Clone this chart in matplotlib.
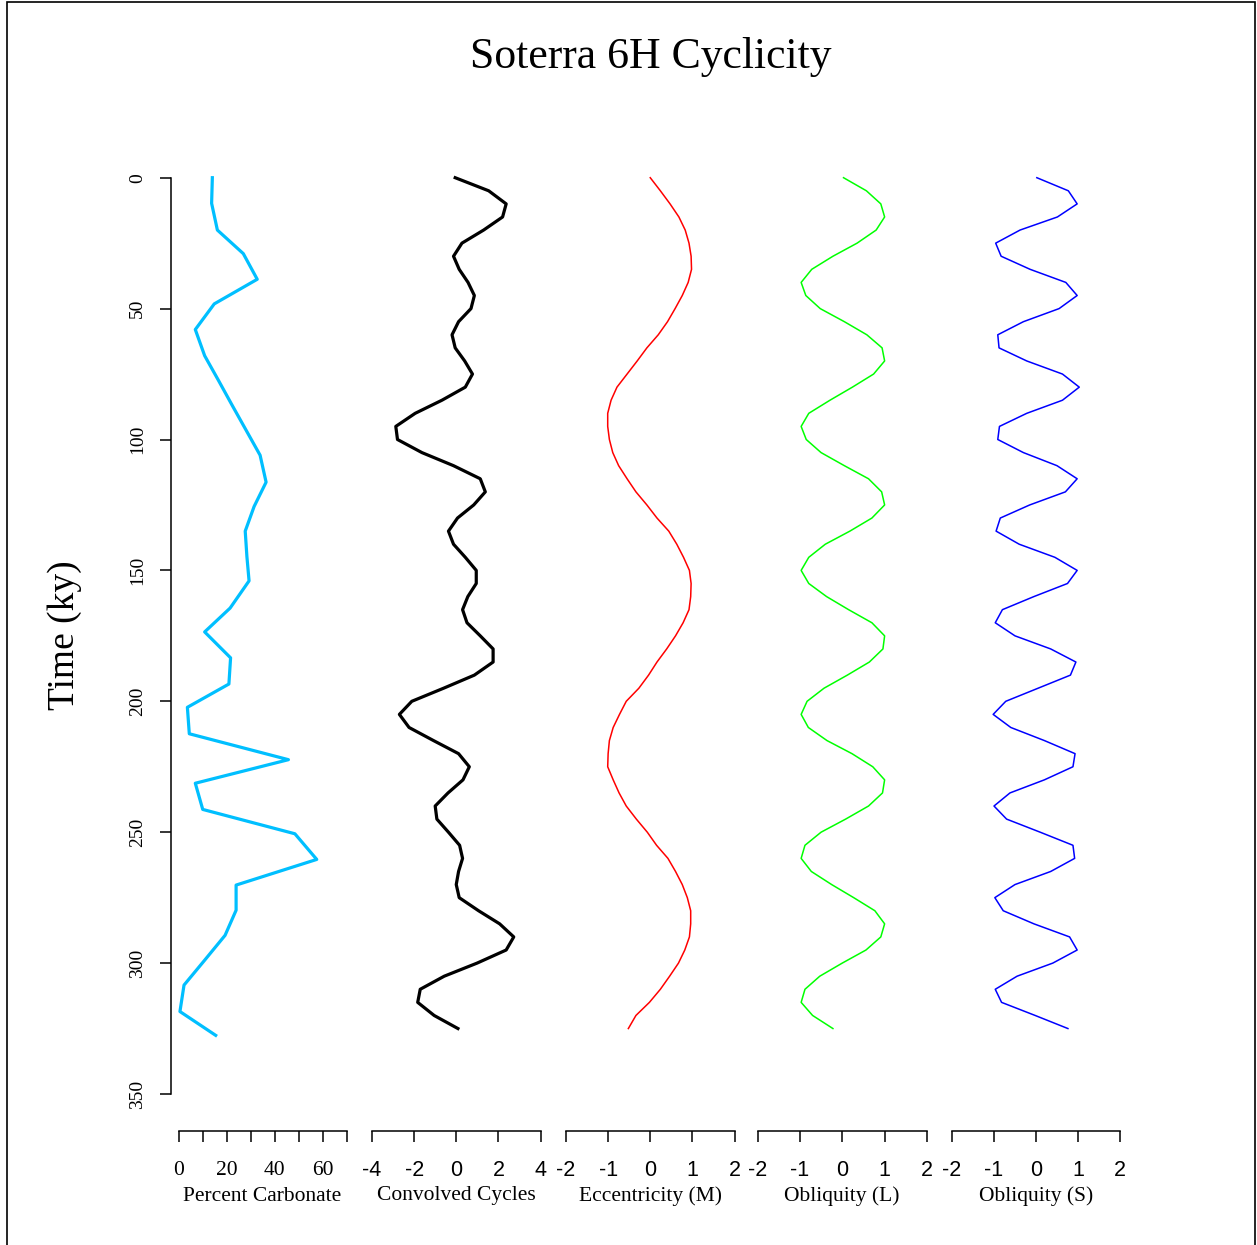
import matplotlib
matplotlib.use('Agg')
import matplotlib.pyplot as plt
import matplotlib.patches as patches

# time axis (ky) for the percent carbonate samples
carb_time = [0, 9.8, 20, 29, 38.8, 48.2, 58, 68, 77.5, 87, 96.5, 106, 116.3, 125.6,
             135, 144.7, 154, 164.4, 173.5, 183.4, 193.4, 202.3, 212.4, 222.3, 231.3,
             241.3, 250.6, 260.4, 270.2, 279.8, 289.4, 299, 308.4, 318.5, 327.6]
carbonate = [14.1, 13.8, 16.2, 27, 32.8, 14.9, 7, 10.9, 16.7, 22.4, 28.2, 34, 36.5, 31.5,
             27.8, 28.5, 29.4, 21.5, 10.9, 21.7, 21, 3.7, 4.5, 45.8, 7,
             10.1, 48.5, 57.6, 24, 24, 19.4, 10.8, 2.3, 0.6, 15.5]

# time axis (ky) for the modelled cycles, every 5 ky
cyc_time = [0, 5, 10, 15, 20, 25, 30, 35, 40, 45, 50, 55, 60, 65, 70, 75, 80, 85, 90, 95,
            100, 105, 110, 115, 120, 125, 130, 135, 140, 145, 150, 155, 160, 165, 170, 175,
            180, 185, 190, 195, 200, 205, 210, 215, 220, 225, 230, 235, 240, 245, 250, 255,
            260, 265, 270, 275, 280, 285, 290, 295, 300, 305, 310, 315, 320, 325]

convolved = [-0.05, 1.54, 2.37, 2.2, 1.3, 0.27, -0.13, 0.14, 0.56, 0.86, 0.7, 0.11, -0.2,
             -0.05, 0.4, 0.77, 0.43, -0.68, -1.95, -2.87, -2.79, -1.63, -0.13, 1.14, 1.38,
             0.83, 0.06, -0.37, -0.13, 0.43, 0.95, 0.95, 0.55, 0.3, 0.51, 1.14, 1.75, 1.75,
             0.86, -0.6, -2.11, -2.7, -2.24, -1.08, 0.11, 0.62, 0.32, -0.39, -1.0, -0.92,
             -0.37, 0.16, 0.3, 0.11, 0.0, 0.14, 1.06, 2.06, 2.73, 2.37, 0.99, -0.57, -1.71,
             -1.83, -1.05, 0.08]

eccentricity = [0.0, 0.24, 0.47, 0.68, 0.83, 0.92, 0.97, 0.98, 0.9, 0.76, 0.59, 0.41, 0.19,
                -0.08, -0.31, -0.55, -0.79, -0.93, -1.01, -1.01, -0.97, -0.89, -0.75, -0.55,
                -0.34, -0.08, 0.16, 0.44, 0.63, 0.79, 0.93, 0.97, 0.96, 0.92, 0.78, 0.6,
                0.39, 0.16, -0.04, -0.27, -0.57, -0.73, -0.88, -0.97, -1.0, -1.01, -0.88,
                -0.74, -0.57, -0.33, -0.07, 0.15, 0.42, 0.6, 0.76, 0.88, 0.96, 0.96, 0.93,
                0.82, 0.67, 0.46, 0.24, -0.02, -0.34, -0.52]

obliquity_l = [0.03, 0.57, 0.91, 1.0, 0.8, 0.35, -0.22, -0.72, -0.97, -0.86, -0.52, 0.05,
               0.58, 0.94, 1.0, 0.74, 0.24, -0.29, -0.79, -0.97, -0.85, -0.5, 0.05, 0.62,
               0.93, 1.0, 0.7, 0.18, -0.4, -0.79, -0.97, -0.79, -0.37, 0.15, 0.7, 1.0,
               0.96, 0.64, 0.12, -0.43, -0.83, -0.97, -0.8, -0.36, 0.23, 0.72, 1.0, 0.95,
               0.62, 0.08, -0.5, -0.88, -0.97, -0.73, -0.25, 0.27, 0.77, 1.0, 0.91, 0.56,
               0.0, -0.53, -0.88, -0.97, -0.7, -0.22]

obliquity_s = [0.02, 0.77, 0.98, 0.51, -0.38, -0.96, -0.83, -0.14, 0.71, 0.98, 0.55, -0.3,
               -0.91, -0.88, -0.22, 0.63, 1.03, 0.63, -0.22, -0.87, -0.91, -0.3, 0.5, 0.98,
               0.7, -0.15, -0.85, -0.95, -0.4, 0.45, 0.98, 0.75, -0.05, -0.8, -0.97, -0.5,
               0.35, 0.95, 0.82, 0.05, -0.72, -1.02, -0.6, 0.2, 0.93, 0.88, 0.2, -0.62,
               -1.0, -0.7, 0.1, 0.88, 0.92, 0.35, -0.5, -0.98, -0.78, -0.05, 0.8, 0.98,
               0.4, -0.45, -0.97, -0.82, -0.02, 0.76]

time_ticks = [0, 50, 100, 150, 200, 250, 300, 350]

SERIF = 'Liberation Serif'
SANS = 'Liberation Sans'

W, H = 1257, 1245
fig = plt.figure(figsize=(W / 100, H / 100), dpi=100)

# pixel layout of the plotting strips
y_top, y_bot = 177.7, 1131
ymax = (y_bot - y_top) / ((1094 - y_top) / 350.0)

panels = [
    # x, y, label, xlim, ticks, tick labels, colour, lw, tick font, left px, right px
    (carbonate, carb_time, 'Percent Carbonate', (0, 70), list(range(0, 71, 10)),
     ['0', '', '20', '', '40', '', '60', ''], '#00BFFF', 2.3, SERIF, 178.5, 346.5),
    (convolved, cyc_time, 'Convolved Cycles', (-4, 4), [-4, -2, 0, 2, 4],
     ['-4', '-2', '0', '2', '4'], 'black', 2.3, SANS, 372, 540.5),
    (eccentricity, cyc_time, 'Eccentricity (M)', (-2, 2), [-2, -1, 0, 1, 2],
     ['-2', '-1', '0', '1', '2'], 'red', 1.1, SANS, 566, 734.5),
    (obliquity_l, cyc_time, 'Obliquity (L)', (-2, 2), [-2, -1, 0, 1, 2],
     ['-2', '-1', '0', '1', '2'], '#00FF00', 1.1, SANS, 757.5, 927),
    (obliquity_s, cyc_time, 'Obliquity (S)', (-2, 2), [-2, -1, 0, 1, 2],
     ['-2', '-1', '0', '1', '2'], 'blue', 1.1, SANS, 952, 1120),
]

for i, (xv, yv, name, xlim, ticks, tlabels, col, lw, tfont, x0, x1) in enumerate(panels):
    ax = fig.add_axes([x0 / W, 1 - y_bot / H, (x1 - x0) / W, (y_bot - y_top) / H])
    ax.plot(xv, yv, color=col, lw=lw, clip_on=False)
    ax.set_xlim(*xlim)
    ax.set_ylim(ymax, 0)
    ax.patch.set_visible(False)
    for s in ['top', 'right']:
        ax.spines[s].set_visible(False)
    ax.spines['bottom'].set_bounds(xlim[0], xlim[1])
    ax.spines['bottom'].set_linewidth(1.1)
    ax.set_xticks(ticks)
    ax.set_xticklabels(tlabels, fontfamily=tfont, fontsize=15.5)
    ax.tick_params(axis='x', direction='out', length=8, width=1.1,
                   pad=13 if tfont == SANS else 13.5)
    ax.set_xlabel(name, fontfamily=SERIF, fontsize=15.5,
                  labelpad=3.5 if tfont == SANS else 5)
    if i == 0:
        ax.spines['left'].set_position(('outward', 5.4))
        ax.spines['left'].set_bounds(0, 350)
        ax.spines['left'].set_linewidth(1.1)
        ax.set_yticks(time_ticks)
        ax.set_yticklabels([str(t) for t in time_ticks], fontfamily=SERIF, fontsize=14,
                           rotation=90, va='center')
        ax.tick_params(axis='y', direction='out', length=8, width=1.1, pad=10)
    else:
        ax.spines['left'].set_visible(False)
        ax.set_yticks([])

fig.text(651 / W, 1 - 57 / H, 'Soterra 6H Cyclicity', ha='center', va='center',
         fontfamily=SERIF, fontsize=31.5)
fig.text(65 / W, 1 - 635 / H, 'Time (ky)', ha='center', va='center', rotation=90,
         fontfamily=SERIF, fontsize=27)

# frame round the figure
fig.patches.append(patches.Rectangle((7 / W, -0.01), (1255 - 7) / W, 1.01 - 1.5 / H,
                                     transform=fig.transFigure, fill=False,
                                     edgecolor='black', lw=1.2))

fig.savefig('out.png', dpi=100)
